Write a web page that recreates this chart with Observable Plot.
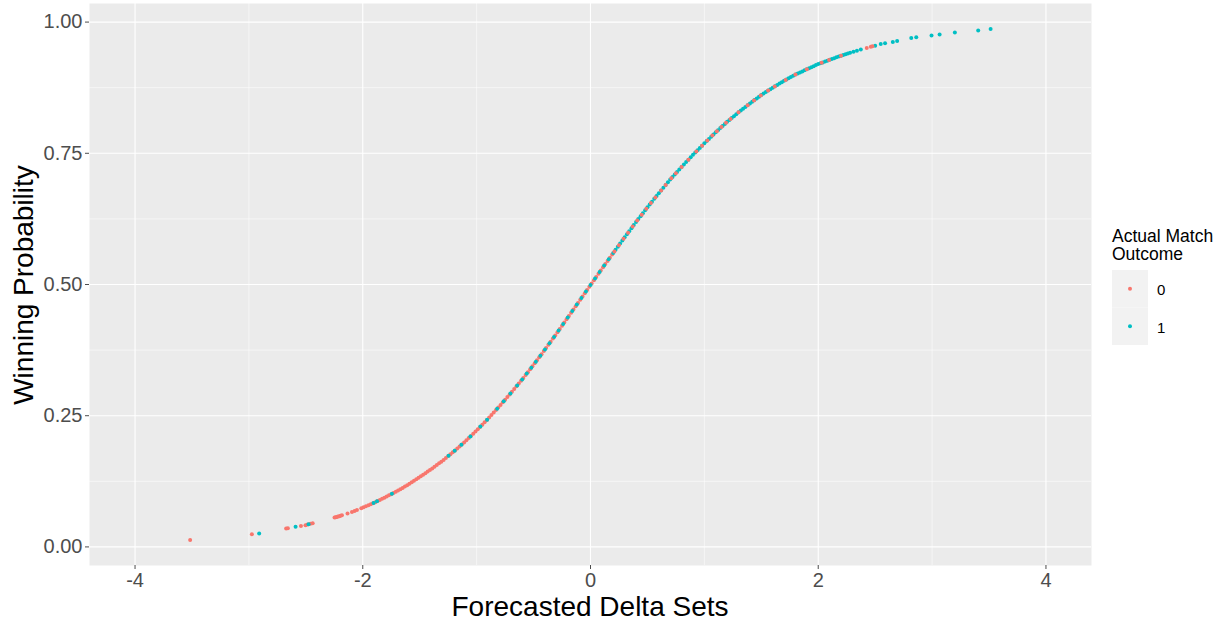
<!DOCTYPE html>
<html><head><meta charset="utf-8">
<script src="https://cdn.jsdelivr.net/npm/d3@7"></script>
<script src="https://cdn.jsdelivr.net/npm/@observablehq/plot@0.6"></script>
<style>body{margin:0;background:#fff;}#chart{width:1225px;height:627px;}</style>
</head><body><div id="chart"></div>
<script>
// Outcome 0 (lost) : forecasted delta sets and winning probability
const outcome0_x = [
-3.516,-2.974,-2.673,-2.658,-2.543,-2.503,-2.485,-2.46,-2.44,-2.248,-2.238,-2.228,-2.218,-2.206,-2.195,-2.183,-2.134,-2.095,-2.072,-2.051,-2.013,-1.993,-1.972,-1.95,-1.93,-1.91,
-1.89,-1.87,-1.85,-1.83,-1.81,-1.79,-1.77,-1.75,-1.73,-1.71,-1.69,-1.67,-1.65,-1.63,-1.61,
-1.59,-1.57,-1.55,-1.53,-1.51,-1.49,-1.47,-1.45,-1.43,-1.41,-1.39,-1.37,-1.35,-1.33,-1.31,
-1.29,-1.27,-1.25,-1.23,-1.21,-1.19,-1.17,-1.15,-1.13,-1.11,-1.09,-1.07,-1.05,-1.03,-1.01,
-0.99,-0.97,-0.95,-0.93,-0.91,-0.89,-0.87,-0.85,-0.83,-0.81,-0.79,-0.77,-0.75,-0.73,-0.71,
-0.69,-0.67,-0.65,-0.63,-0.61,-0.59,-0.57,-0.55,-0.53,-0.51,-0.49,-0.47,-0.45,-0.43,-0.41,
-0.39,-0.37,-0.35,-0.33,-0.31,-0.29,-0.27,-0.25,-0.23,-0.21,-0.19,-0.17,-0.15,-0.13,-0.11,
-0.09,-0.07,-0.05,-0.03,-0.01,0.01,0.03,0.05,0.07,0.09,0.11,0.13,0.15,0.17,0.19,
0.21,0.25,0.29,0.33,0.37,0.41,0.45,0.49,0.53,0.57,
0.62,0.66,0.71,0.75,0.80,0.86,0.93,0.98,1.026,1.07,1.11,1.15,
1.19,1.23,1.30,1.38,1.436,1.495,1.56,1.618,1.714,1.80,1.90,2.03,2.095,2.20,2.426,2.462,2.476
];
const outcome0_y = [
0.0130,0.0240,0.0350,0.0355,0.0400,0.0415,0.0425,0.0440,0.0450,0.0560,0.0566,0.0572,0.0578,0.0586,0.0594,0.0602,0.0636,0.0664,0.0685,0.0704,0.0738,0.0756,0.0775,0.0795,0.0813,0.0831,
0.0851,0.0873,0.0895,0.0917,0.0939,0.0961,0.0983,0.1005,0.1027,0.1049,0.1073,0.1099,0.1125,0.1151,0.1177,
0.1204,0.1232,0.1260,0.1288,0.1316,0.1345,0.1375,0.1405,0.1435,0.1465,0.1496,0.1528,0.1560,0.1592,0.1624,
0.1658,0.1694,0.1730,0.1766,0.1802,0.1839,0.1877,0.1915,0.1953,0.1991,0.2031,0.2073,0.2115,0.2157,0.2199,
0.2242,0.2286,0.2330,0.2374,0.2418,0.2464,0.2512,0.2560,0.2608,0.2656,0.2705,0.2755,0.2805,0.2855,0.2905,
0.2956,0.3008,0.3060,0.3112,0.3164,0.3218,0.3274,0.3330,0.3386,0.3442,0.3499,0.3557,0.3615,0.3673,0.3731,
0.3790,0.3850,0.3910,0.3970,0.4030,0.4091,0.4153,0.4215,0.4277,0.4339,0.4401,0.4463,0.4525,0.4587,0.4649,
0.4711,0.4773,0.4835,0.4897,0.4959,0.5021,0.5083,0.5145,0.5207,0.5269,0.5330,0.5390,0.5450,0.5510,0.5570,
0.5630,0.5750,0.5870,0.5987,0.6103,0.6218,0.6330,0.6442,0.6551,0.6659,
0.6792,0.6896,0.7024,0.7120,0.7240,0.7378,0.7536,0.7646,0.7745,0.7837,0.7920,0.8000,
0.8080,0.8154,0.8280,0.8416,0.8508,0.8602,0.8694,0.8773,0.8897,0.9000,0.9100,0.9224,0.9276,0.9360,0.9508,0.9530,0.9540
];
// Outcome 1 (won)
const outcome1_x = [
-2.91,-2.59,-2.476,-1.905,-1.875,-1.744,-1.246,-1.193,-1.134,-1.055,-0.967,-0.908,-0.82,-0.762,-0.703,-0.644,
-0.60,-0.56,-0.52,-0.48,-0.44,-0.40,-0.36,-0.32,-0.28,-0.24,-0.20,-0.16,-0.12,-0.08,-0.04,
0.00,0.04,0.08,0.12,0.16,0.20,0.22,0.24,0.26,0.28,
0.30,0.32,0.34,0.36,0.38,0.40,0.42,0.44,0.46,0.48,0.50,0.52,0.54,0.56,0.58,
0.60,0.62,0.64,0.66,0.68,0.70,0.72,0.74,0.76,0.78,0.80,0.82,0.84,0.86,0.88,
0.90,0.92,0.94,0.96,0.98,1.00,1.02,1.04,1.06,1.08,1.10,1.12,1.14,1.16,1.18,
1.20,1.22,1.24,1.26,1.28,1.30,1.32,1.34,1.36,1.38,1.40,1.42,1.44,1.46,1.48,
1.50,1.52,1.54,1.56,1.58,1.60,1.62,1.64,1.66,1.68,1.70,1.72,1.74,1.76,1.78,
1.80,1.82,1.84,1.86,1.88,1.90,1.92,1.94,1.96,1.98,2.00,2.02,2.04,2.06,2.08,
2.10,2.12,2.14,2.16,2.18,2.20,2.22,2.24,2.26,2.28,
2.31,2.34,2.374,2.50,2.549,2.587,2.655,2.693,2.817,2.861,2.995,3.066,3.20,3.405,3.514
];
const outcome1_y = [
0.0255,0.0384,0.0433,0.0836,0.0868,0.1012,0.1737,0.1833,0.1945,0.2105,0.2293,0.2422,0.2632,0.2775,0.2923,0.3076,
0.3190,0.3302,0.3414,0.3528,0.3644,0.3760,0.3880,0.4000,0.4122,0.4246,0.4370,0.4494,0.4618,0.4742,0.4866,
0.4990,0.5114,0.5238,0.5360,0.5480,0.5600,0.5660,0.5720,0.5780,0.5840,
0.5900,0.5958,0.6016,0.6074,0.6132,0.6190,0.6246,0.6302,0.6358,0.6414,0.6470,0.6524,0.6578,0.6632,0.6686,
0.6740,0.6792,0.6844,0.6896,0.6948,0.7000,0.7048,0.7096,0.7144,0.7192,0.7240,0.7286,0.7332,0.7378,0.7424,
0.7470,0.7514,0.7558,0.7602,0.7646,0.7690,0.7732,0.7774,0.7816,0.7858,0.7900,0.7940,0.7980,0.8020,0.8060,
0.8100,0.8136,0.8172,0.8208,0.8244,0.8280,0.8314,0.8348,0.8382,0.8416,0.8450,0.8482,0.8514,0.8546,0.8578,
0.8610,0.8638,0.8666,0.8694,0.8722,0.8750,0.8776,0.8802,0.8828,0.8854,0.8880,0.8904,0.8928,0.8952,0.8976,
0.9000,0.9020,0.9040,0.9060,0.9080,0.9100,0.9120,0.9140,0.9160,0.9180,0.9200,0.9216,0.9232,0.9248,0.9264,
0.9280,0.9296,0.9312,0.9328,0.9344,0.9360,0.9374,0.9388,0.9402,0.9416,
0.9436,0.9456,0.9477,0.9550,0.9580,0.9595,0.9620,0.9640,0.9695,0.9710,0.9746,0.9765,0.9800,0.9840,0.9867
];
const outcomeLabels = ["0", "1"];
const outcomeColors = ["#F8766D", "#00BFC4"];
const xTicks = [-4, -2, 0, 2, 4];
const xMinorTicks = [-3, -1, 1, 3];
const yTicks = [0, 0.25, 0.5, 0.75, 1];
const yMinorTicks = [0.125, 0.375, 0.625, 0.875];
const xTitle = "Forecasted Delta Sets";
const yTitle = "Winning Probability";
const legendTitle = ["Actual Match", "Outcome"];

const rows0 = outcome0_x.map((x, i) => ({x, y: outcome0_y[i], outcome: outcomeLabels[0]}));
const rows1 = outcome1_x.map((x, i) => ({x, y: outcome1_y[i], outcome: outcomeLabels[1]}));
const R = 2.0;

const plot = Plot.plot({
  width: 1225, height: 627,
  marginLeft: 89, marginRight: 134, marginTop: 3, marginBottom: 62,
  style: {fontFamily: "'Liberation Sans', Arial, sans-serif", background: "#fff", overflow: "visible"},
  x: {domain: [-4.4, 4.4]},
  y: {domain: [-0.0354, 1.0354]},
  color: {domain: outcomeLabels, range: outcomeColors},
  marks: [
    Plot.frame({fill: "#EBEBEB", stroke: null}),
    Plot.gridX(xMinorTicks, {stroke: "#fff", strokeOpacity: 1, strokeWidth: 0.55}),
    Plot.gridY(yMinorTicks, {stroke: "#fff", strokeOpacity: 1, strokeWidth: 0.55}),
    Plot.gridX(xTicks, {stroke: "#fff", strokeOpacity: 1, strokeWidth: 1.1}),
    Plot.gridY(yTicks, {stroke: "#fff", strokeOpacity: 1, strokeWidth: 1.1}),
    Plot.axisX(xTicks, {tickSize: 4, tickPadding: 3, fontSize: 20, color: "#4D4D4D", label: null, tickFormat: d => String(d)}),
    Plot.axisY(yTicks, {tickSize: 4, tickPadding: 3, fontSize: 20, color: "#4D4D4D", label: null, tickFormat: d3.format(".2f")}),
    Plot.dot(rows0.filter(d => d.x < 0.2), {x: "x", y: "y", fill: "outcome", r: R}),
    Plot.dot(rows1, {x: "x", y: "y", fill: "outcome", r: R}),
    Plot.dot(rows0.filter(d => d.x >= 0.2), {x: "x", y: "y", fill: "outcome", r: R})
  ]
});
document.getElementById("chart").appendChild(plot);

const svg = d3.select(plot);
const font = "'Liberation Sans', Arial, sans-serif";
svg.append("text").attr("x", 590).attr("y", 616).attr("text-anchor", "middle")
  .attr("font-family", font).attr("font-size", 28).attr("fill", "#000").text(xTitle);
svg.append("text").attr("transform", "translate(33,285) rotate(-90)").attr("text-anchor", "middle")
  .attr("font-family", font).attr("font-size", 28).attr("fill", "#000").text(yTitle);
const lg = svg.append("g").attr("font-family", font).attr("text-anchor", "start");
legendTitle.forEach((t, i) => lg.append("text").attr("x", 1112).attr("y", 242 + i * 18)
  .attr("text-anchor", "start").attr("font-size", 17.5).attr("fill", "#000").text(t));
outcomeLabels.forEach((lab, i) => {
  const y0 = 270 + i * 37.5;
  lg.append("rect").attr("x", 1112).attr("y", y0).attr("width", 36).attr("height", 37.5).attr("fill", "#F2F2F2");
  lg.append("circle").attr("cx", 1130).attr("cy", y0 + 18.75).attr("r", R).attr("fill", outcomeColors[i]);
  lg.append("text").attr("x", 1157).attr("y", y0 + 25).attr("text-anchor", "start").attr("font-size", 15).attr("fill", "#000").text(lab);
});
</script></body></html>
